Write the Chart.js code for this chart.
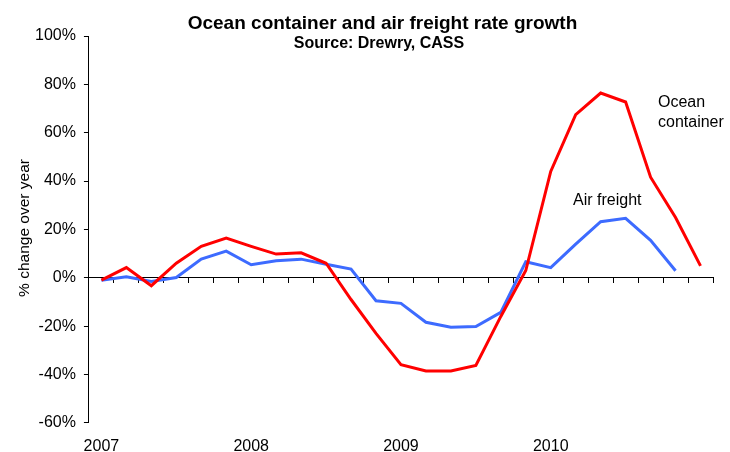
<!DOCTYPE html>
<html>
<head>
<meta charset="utf-8">
<script src="https://cdn.jsdelivr.net/npm/chart.js@4.4.1/dist/chart.umd.min.js"></script>
<style>
  html, body { margin:0; padding:0; background:#fff; }
  #wrap { position:relative; width:730px; height:452px; font-family:"Liberation Sans", Arial, sans-serif; }
  #wrap canvas { position:absolute; left:0; top:0; }
  .txt { position:absolute; color:#000; white-space:nowrap; }
  .title { text-align:center; font-weight:bold; }
  .ytitle { left:-76px; top:219px; width:200px; line-height:18px; font-size:15.5px; text-align:center; transform:rotate(-90deg); }
</style>
</head>
<body>
<div id="wrap">
  <canvas id="chart" width="730" height="452"></canvas>
  <div class="txt title" style="left:0; width:765px; top:12px; font-size:19px;">Ocean container and air freight rate growth</div>
  <div class="txt title" style="left:0; width:758px; top:34px; font-size:16px;">Source: Drewry, CASS</div>
  <div class="txt ytitle">% change over year</div>
  <div class="txt" style="left:658px; top:92px; font-size:16px; line-height:20px;">Ocean<br>container</div>
  <div class="txt" style="left:573px; top:191px; font-size:16px;">Air freight</div>
</div>
<script>
// two-month periods, Jan 2007 .. Jan 2011
const periods = ["2007","","","","","","2008","","","","","","2009","","","","","","2010","","","","","",""];
const oceanContainer = [-1, 4.2, -3.3, 6, 13, 16.4, 13, 9.8, 10.3, 6, -9, -23, -36, -38.6, -38.6, -36.3, -16, 3, 44, 67.5, 76.4, 72.7, 41.6, 24.9, 4.9];
const airFreight = [-1, 0.4, -1.5, 0.1, 7.7, 11, 5.4, 7, 7.7, 5.6, 3.6, -9.5, -10.6, -18.4, -20.5, -20.2, -14.3, 6.6, 4.2, 13.9, 23.2, 24.6, 15.5, 2.9, null];
const yTicks = { min: -60, max: 100, step: 20 };

const font = { family: "'Liberation Sans', Arial, sans-serif", size: 16 };

new Chart(document.getElementById("chart"), {
  type: "line",
  data: {
    labels: periods,
    datasets: [
      { label: "Ocean container", data: oceanContainer, borderColor: "#ff0000", borderWidth: 3, pointRadius: 0, tension: 0, xAxisID: "x" },
      { label: "Air freight", data: airFreight, borderColor: "#3d6bff", borderWidth: 3, pointRadius: 0, tension: 0, xAxisID: "x" }
    ]
  },
  options: {
    responsive: false,
    animation: false,
    layout: { padding: { top: 36, right: 17, left: 27, bottom: -18 } },
    plugins: { legend: { display: false }, tooltip: { enabled: false } },
    scales: {
      x: {
        type: "category",
        position: { y: 0 },
        offset: true,
        ticks: { display: false },
        grid: { offset: true, drawOnChartArea: false, drawTicks: true, tickLength: 5, color: "#000" },
        border: { color: "#000", width: 1 }
      },
      xLabels: {
        type: "category",
        position: "bottom",
        labels: periods,
        offset: true,
        ticks: { color: "#000", font, maxRotation: 0, autoSkip: false, padding: 14 },
        grid: { display: false, drawTicks: false },
        border: { display: false }
      },
      y: {
        min: yTicks.min,
        max: yTicks.max,
        ticks: { stepSize: yTicks.step, color: "#000", font, padding: 8, callback: (v) => v + "%" },
        grid: { drawOnChartArea: false, drawTicks: true, tickLength: 5, color: "#000" },
        border: { color: "#000", width: 1 }
      }
    }
  }
});
</script>
</body>
</html>
